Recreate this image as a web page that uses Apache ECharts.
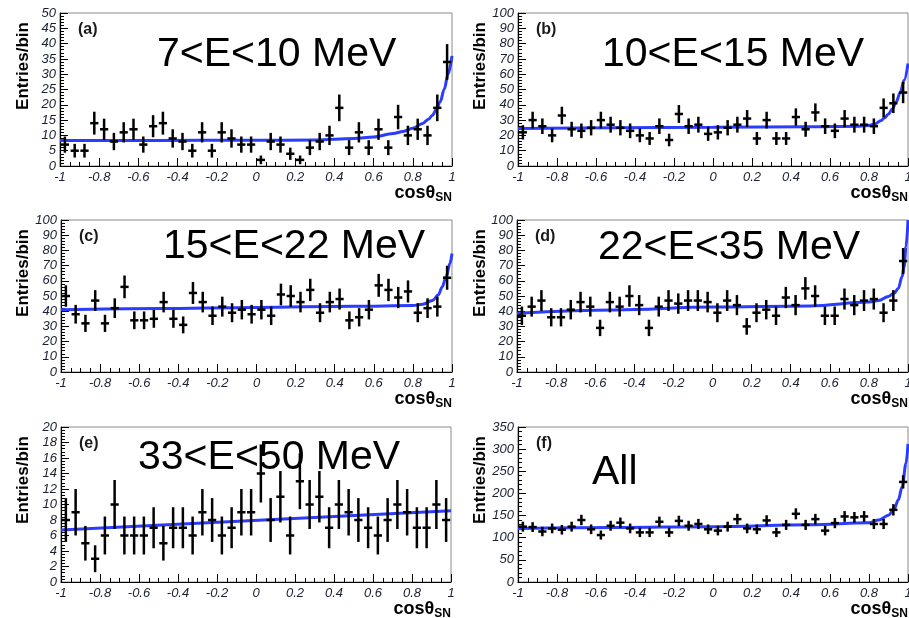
<!DOCTYPE html>
<html><head><meta charset="utf-8">
<script src="https://cdn.jsdelivr.net/npm/echarts@6/dist/echarts.min.js"></script>
<style>html,body{margin:0;padding:0;background:#fff}#c{width:909px;height:618px}</style>
</head><body><div id="c"></div>
<script>
// ---- data ----
const binCenters = [-0.975,-0.925,-0.875,-0.825,-0.775,-0.725,-0.675,-0.625,-0.575,-0.525,
  -0.475,-0.425,-0.375,-0.325,-0.275,-0.225,-0.175,-0.125,-0.075,-0.025,
  0.025,0.075,0.125,0.175,0.225,0.275,0.325,0.375,0.425,0.475,
  0.525,0.575,0.625,0.675,0.725,0.775,0.825,0.875,0.925,0.975];

const countsA = [7,5,5,14,12,8,11,12,7,13,14,9,8,5,11,5,11,9,7,7,2,8,7,4,2,6,8,10,19,6,11,6,12,6,16,10,12,10,19,34];
const countsB = [22,30,26,20,33,24,23,25,30,27,25,23,20,18,26,17,34,26,27,21,22,25,27,31,18,30,18,18,32,24,35,26,23,31,27,27,26,38,41,48];
const countsC = [50,38,32,47,32,42,56,34,34,35,46,35,31,52,46,37,43,39,41,38,41,37,51,50,46,54,39,46,48,34,36,41,57,54,49,53,39,42,43,62];
const countsD = [37,43,47,36,36,41,46,43,29,46,43,50,44,29,43,47,45,47,47,46,39,47,44,30,39,41,37,49,44,55,50,37,37,48,44,47,48,39,47,73];
const countsE = [8,9,5,3,6,10,6,6,6,7,5,7,7,6,9,8,6,7,9,9,14,8,11,6,13,10,11,7,10,9,8,7,6,8,10,9,7,7,10,8];
const countsF = [125,124,114,121,118,125,140,119,106,127,134,121,112,112,136,112,138,127,131,119,116,125,142,121,119,139,112,129,154,129,142,116,133,148,146,148,131,131,163,226];

const fitXA = [-1,-0.5,0,0.3,0.5,0.6,0.7,0.75,0.8,0.85,0.88,0.9,0.92,0.94,0.96,0.98,1];
const fitYA = [8.3,8.35,8.4,8.5,9.0,9.5,10.6,11.3,12.3,13.9,15.3,16.6,18.5,21,25,30,36];
const fitXB = [-1,-0.5,0,0.5,0.75,0.8,0.83,0.86,0.88,0.9,0.92,0.94,0.96,0.98,1];
const fitYB = [24.5,25,25.3,25.7,26,26.5,27.5,29.5,31.5,34,37.5,42,48,56,67];
const fitXC = [-1,-0.5,0,0.5,0.8,0.85,0.9,0.93,0.95,0.97,0.99,1];
const fitYC = [41,41.8,42.5,43.2,43.7,44.6,47,50.7,56,62.8,71.6,78];
const fitXD = [-1,-0.5,0,0.5,0.8,0.85,0.9,0.93,0.95,0.97,0.98,0.99,1];
const fitYD = [38.7,40.8,42.7,43.5,46,47,49.7,52,55,62.8,69,82.5,100];
const fitXE = [-1,1];
const fitYE = [6.7,9.2];
const fitXF = [-1,-0.5,0,0.5,0.8,0.85,0.9,0.93,0.95,0.97,0.99,1];
const fitYF = [121,123,125,129,134,140,151,166,185,215,268,312];

const panelLabels = ['(a)','(b)','(c)','(d)','(e)','(f)'];
const energyLabels = ['7<E<10 MeV','10<E<15 MeV','15<E<22 MeV','22<E<35 MeV','33<E<50 MeV','All'];
const yMax = [50,100,100,100,20,350];
const yStep = [5,10,10,10,2,50];
const xMin = -1, xMax = 1, xStep = 0.2;
const yTitle = 'Entries/bin';

// ---- layout ----
const grids = [
  {left:60, top:13, width:392, height:153},
  {left:518, top:13, width:390, height:153},
  {left:61, top:220, width:391, height:152},
  {left:517, top:220, width:391, height:152},
  {left:61, top:427, width:390, height:155},
  {left:518, top:427, width:390, height:155}
];
const countsAll = [countsA,countsB,countsC,countsD,countsE,countsF];
const fitsX = [fitXA,fitXB,fitXC,fitXD,fitXE,fitXF];
const fitsY = [fitYA,fitYB,fitYC,fitYD,fitYE,fitYF];
const energyPos = [[157,55],[602,55],[163,247],[598,248],[138,458],[592,473]];

const FONT = '"Liberation Sans", Arial, Helvetica, sans-serif';
const labelColor = '#1a2030';

const option = {
  animation:false,
  backgroundColor:'#fff',
  grid: grids.map(g=>Object.assign({show:true, borderColor:'#8a8a8a', borderWidth:1, backgroundColor:'#fff',
    containLabel:false, outerBoundsMode:'none'}, g)),
  xAxis: grids.map((g,i)=>({
    gridIndex:i, type:'value', min:xMin, max:xMax, interval:xStep,
    axisLine:{onZero:false, lineStyle:{color:'#000', width:1.2}},
    axisTick:{inside:true, length:8, lineStyle:{color:'#000', width:1}},
    minorTick:{show:true, splitNumber:4, length:4, lineStyle:{color:'#000', width:1}},
    splitLine:{show:false},
    axisLabel:{fontStyle:'italic', fontSize:13, fontFamily:FONT, color:labelColor, margin:5, hideOverlap:false,
      formatter:v=>String(Math.round(v*10)/10)}
  })),
  yAxis: grids.map((g,i)=>({
    gridIndex:i, type:'value', min:0, max:yMax[i], interval:yStep[i],
    axisLine:{onZero:false, lineStyle:{color:'#000', width:1.2}},
    axisTick:{inside:true, length:8, lineStyle:{color:'#000', width:1}},
    minorTick:{show:true, splitNumber:5, length:4, lineStyle:{color:'#000', width:1}},
    splitLine:{show:false},
    axisLabel:{fontStyle:'italic', fontSize:13, fontFamily:FONT, color:labelColor, margin:4}
  })),
  series: []
};

countsAll.forEach((counts,i)=>{
  option.series.push({
    type:'line', xAxisIndex:i, yAxisIndex:i,
    data: fitsX[i].map((x,k)=>[x, fitsY[i][k]]),
    showSymbol:false, smooth:0.35, smoothMonotone:'x', clip:true,
    lineStyle:{color:'#2a3cff', width:3}, z:2
  });
  option.series.push({
    type:'custom', xAxisIndex:i, yAxisIndex:i, clip:true, z:3,
    data: binCenters.map((x,k)=>[x, counts[k], Math.sqrt(counts[k])]),
    renderItem:(params, api)=>{
      const x = api.value(0), y = api.value(1), e = api.value(2);
      const pL = api.coord([x-0.021, y]), pR = api.coord([x+0.021, y]);
      const pT = api.coord([x, y+e]), pB = api.coord([x, Math.max(0, y-e)]);
      return {type:'group', children:[
        {type:'line', shape:{x1:pL[0], y1:pL[1], x2:pR[0], y2:pR[1]}, style:{stroke:'#000', lineWidth:2.5}},
        {type:'line', shape:{x1:pT[0], y1:pT[1], x2:pB[0], y2:pB[1]}, style:{stroke:'#000', lineWidth:2.5}}
      ]};
    }
  });
});

const graphics = [];
grids.forEach((g,i)=>{
  const right = g.left + g.width;
  const bottom = g.top + g.height;
  graphics.push({type:'text', x:g.left+18, y:g.top+17, z:10,
    style:{text:panelLabels[i], font:'bold 16px '+FONT, fill:'#1a1a1a', textAlign:'left', textVerticalAlign:'middle', align:'left', verticalAlign:'middle'}});
  graphics.push({type:'text', x:energyPos[i][0], y:energyPos[i][1], z:10,
    style:{text:energyLabels[i], font:'41px '+FONT, fill:'#000', textAlign:'left', textVerticalAlign:'middle', align:'left', verticalAlign:'middle'}});
  const yx = (i%2===0) ? 23 : 480;
  graphics.push({type:'text', x:yx, y:g.top+53, rotation:Math.PI/2, z:10,
    style:{text:yTitle, font:'bold 17px '+FONT, fill:'#000', textAlign:'center', textVerticalAlign:'middle', align:'center', verticalAlign:'middle'}});
  graphics.push({type:'text', x:right, y:bottom+27, z:10,
    style:{text:'{a|cosθ}{b|SN}', textAlign:'right', textVerticalAlign:'middle', align:'right', verticalAlign:'middle',
      rich:{a:{font:'bold 18px '+FONT, fill:'#000'}, b:{font:'bold 12px '+FONT, fill:'#000', padding:[9,0,0,0]}}}});
});
option.graphic = graphics;

const chart = echarts.init(document.getElementById('c'), null, {renderer:'canvas'});
chart.setOption(option);
</script>
</body></html>
